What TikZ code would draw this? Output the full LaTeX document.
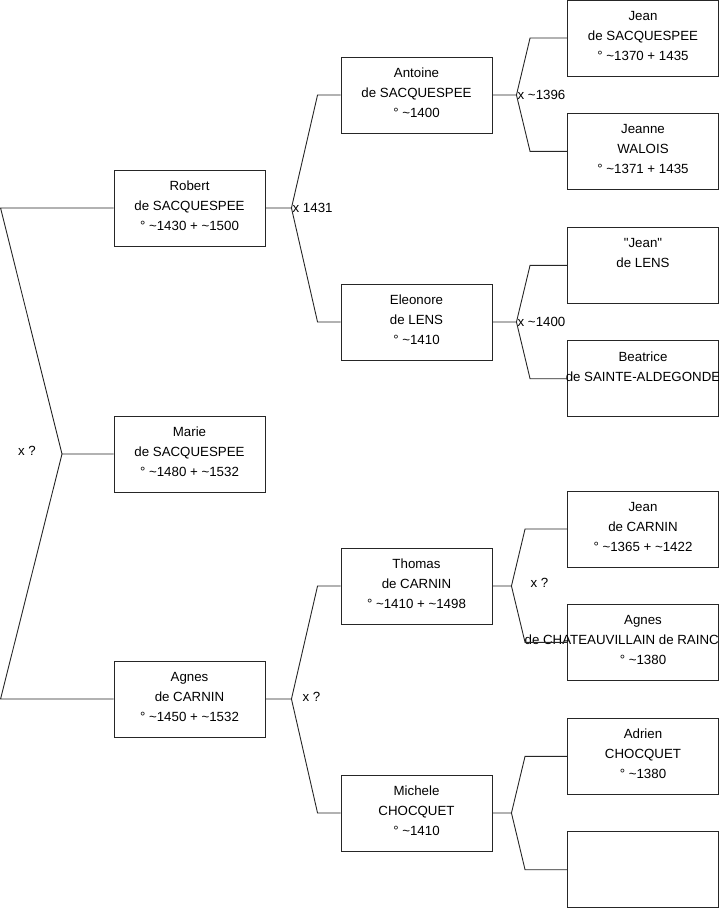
\documentclass[tikz,border=0pt]{standalone}
\usepackage{fontspec}
\setmainfont{Liberation Sans}[Ligatures=TeXOff]
\usetikzlibrary{positioning, calc}

\begin{document}
\begin{tikzpicture}[
    x=1pt, y=-1pt,
    person/.style={rectangle, draw=black!85, line width=0.9pt, minimum width=151pt, minimum height=76pt, inner sep=0pt, text depth=5pt, align=center, font=\fontsize{13.3}{20}\selectfont},
    link/.style={draw=black!85, line width=0.9pt},
    union/.style={inner sep=0pt, font=\fontsize{13.3}{16}\selectfont}
]
    \useasboundingbox (0,0) rectangle (719,908);

    % Children
    \node[person] (robert) at (189.5,208) {Robert\\ de SACQUESPEE\\ ° \textasciitilde1430 + \textasciitilde1500};
    \node[person] (marie) at (189.5,454) {Marie\\ de SACQUESPEE\\ ° \textasciitilde1480 + \textasciitilde1532};
    \node[person] (agnes) at (189.5,699) {Agnes\\ de CARNIN\\ ° \textasciitilde1450 + \textasciitilde1532};

    % Parents
    \node[person] (antoine) at (416.5,95) {Antoine\\ de SACQUESPEE\\ ° \textasciitilde1400};
    \node[person] (eleonore) at (416.5,322) {Eleonore\\ de LENS\\ ° \textasciitilde1410};
    \node[person] (thomas) at (416.5,586) {Thomas\\ de CARNIN\\ ° \textasciitilde1410 + \textasciitilde1498};
    \node[person] (michele) at (416.5,813) {Michele\\ CHOCQUET\\ ° \textasciitilde1410};

    % Grandparents
    \node[person] (jeanS) at (643,38) {Jean\\ de SACQUESPEE\\ ° \textasciitilde1370 + 1435};
    \node[person] (jeanne) [below=36.5pt of jeanS] {Jeanne\\ WALOIS\\ ° \textasciitilde1371 + 1435};
    \node[person] (jeanL) [below=37pt of jeanne] {"Jean"\\ de LENS\\ \mbox{}};
    \node[person] (beatrice) [below=36.5pt of jeanL] {Beatrice\\ \makebox[0pt]{de SAINTE-ALDEGONDE}\\ \mbox{}};
    \node[person] (jeanC) at (643,529) {Jean\\ de CARNIN\\ ° \textasciitilde1365 + \textasciitilde1422};
    \node[person] (agnesR) [below=36.5pt of jeanC] {Agnes\\ \makebox[0pt]{de CHATEAUVILLAIN de RAINCHEVAL}\\ ° \textasciitilde1380};
    \node[person] (adrien) [below=37pt of agnesR] {Adrien\\ CHOCQUET\\ ° \textasciitilde1380};
    \node[person] (unknown) [below=36.5pt of adrien] {};

    % Siblings
    \coordinate (root) at (62,454);
    \draw[link] (robert.west) -- ++(-113,0) -- (root) -- (marie.west);
    \draw[link] (root) -- ($(agnes.west)+(-113,0)$) -- (agnes.west);
    \node[union] at (27,451) {x ?};

    % Unions, first generation
    \draw[link] (robert.east) -- ++(26,0) coordinate (u1) -- ($(antoine.west)+(-23,0)$) -- (antoine.west);
    \draw[link] (u1) -- ($(eleonore.west)+(-23,0)$) -- (eleonore.west);
    \node[union, anchor=west] at ($(u1)+(1,0)$) {x 1431};

    \draw[link] (agnes.east) -- ++(26,0) coordinate (u2) -- ($(thomas.west)+(-23,0)$) -- (thomas.west);
    \draw[link] (u2) -- ($(michele.west)+(-23,0)$) -- (michele.west);
    \node[union] at ($(u2)+(20,-2)$) {x ?};

    % Unions, second generation
    \draw[link] (antoine.east) -- ++(24,0) coordinate (u3) -- ($(jeanS.west)+(-37,0)$) -- (jeanS.west);
    \draw[link] (u3) -- ($(jeanne.west)+(-37,0)$) -- (jeanne.west);
    \node[union, anchor=west] at ($(u3)+(1,0)$) {x \textasciitilde1396};

    \draw[link] (eleonore.east) -- ++(24,0) coordinate (u4) -- ($(jeanL.west)+(-37,0)$) -- (jeanL.west);
    \draw[link] (u4) -- ($(beatrice.west)+(-37,0)$) -- (beatrice.west);
    \node[union, anchor=west] at ($(u4)+(1,0)$) {x \textasciitilde1400};

    \draw[link] (thomas.east) -- ++(19,0) coordinate (u5) -- ($(jeanC.west)+(-42,0)$) -- (jeanC.west);
    \draw[link] (u5) -- ($(agnesR.west)+(-42,0)$) -- (agnesR.west);
    \node[union] at ($(u5)+(28,-3)$) {x ?};

    \draw[link] (michele.east) -- ++(19,0) coordinate (u6) -- ($(adrien.west)+(-42,0)$) -- (adrien.west);
    \draw[link] (u6) -- ($(unknown.west)+(-42,0)$) -- (unknown.west);
\end{tikzpicture}
\end{document}
